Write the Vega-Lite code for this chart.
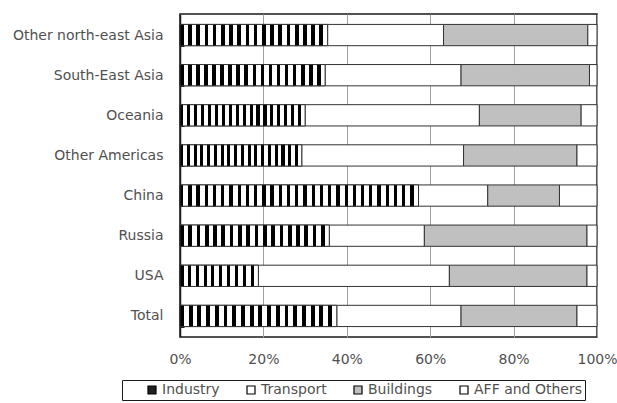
{
  "$schema": "https://vega.github.io/schema/vega-lite/v6.json",
  "width": 417,
  "height": 323,
  "autosize": "none",
  "padding": {"left": 180, "top": 14, "right": 20, "bottom": 66},
  "background": "white",
  "config": {
    "font": "DejaVu Sans",
    "view": {"stroke": "#1a1a1a", "strokeWidth": 1.5},
    "axis": {"labelFont": "DejaVu Sans", "labelFontSize": 14, "labelColor": "#505050", "title": null}
  },
  "data": {
    "values": [
      {"region": "Other north-east Asia", "sector": "Industry", "k": 1, "share": 35.4},
      {"region": "Other north-east Asia", "sector": "Transport", "k": 2, "share": 27.8},
      {"region": "Other north-east Asia", "sector": "Buildings", "k": 3, "share": 34.6},
      {"region": "Other north-east Asia", "sector": "AFF and Others", "k": 4, "share": 2.2},
      {"region": "South-East Asia", "sector": "Industry", "k": 1, "share": 34.8},
      {"region": "South-East Asia", "sector": "Transport", "k": 2, "share": 32.6},
      {"region": "South-East Asia", "sector": "Buildings", "k": 3, "share": 30.8},
      {"region": "South-East Asia", "sector": "AFF and Others", "k": 4, "share": 1.8},
      {"region": "Oceania", "sector": "Industry", "k": 1, "share": 30.0},
      {"region": "Oceania", "sector": "Transport", "k": 2, "share": 41.8},
      {"region": "Oceania", "sector": "Buildings", "k": 3, "share": 24.4},
      {"region": "Oceania", "sector": "AFF and Others", "k": 4, "share": 3.8},
      {"region": "Other Americas", "sector": "Industry", "k": 1, "share": 29.2},
      {"region": "Other Americas", "sector": "Transport", "k": 2, "share": 38.8},
      {"region": "Other Americas", "sector": "Buildings", "k": 3, "share": 27.2},
      {"region": "Other Americas", "sector": "AFF and Others", "k": 4, "share": 4.8},
      {"region": "China", "sector": "Industry", "k": 1, "share": 57.2},
      {"region": "China", "sector": "Transport", "k": 2, "share": 16.6},
      {"region": "China", "sector": "Buildings", "k": 3, "share": 17.2},
      {"region": "China", "sector": "AFF and Others", "k": 4, "share": 9.0},
      {"region": "Russia", "sector": "Industry", "k": 1, "share": 35.8},
      {"region": "Russia", "sector": "Transport", "k": 2, "share": 22.8},
      {"region": "Russia", "sector": "Buildings", "k": 3, "share": 39.0},
      {"region": "Russia", "sector": "AFF and Others", "k": 4, "share": 2.4},
      {"region": "USA", "sector": "Industry", "k": 1, "share": 18.8},
      {"region": "USA", "sector": "Transport", "k": 2, "share": 45.8},
      {"region": "USA", "sector": "Buildings", "k": 3, "share": 33.0},
      {"region": "USA", "sector": "AFF and Others", "k": 4, "share": 2.4},
      {"region": "Total", "sector": "Industry", "k": 1, "share": 37.6},
      {"region": "Total", "sector": "Transport", "k": 2, "share": 29.8},
      {"region": "Total", "sector": "Buildings", "k": 3, "share": 27.8},
      {"region": "Total", "sector": "AFF and Others", "k": 4, "share": 4.8}
    ]
  },
  "transform": [
    {"stack": "share", "groupby": ["region"], "sort": [{"field": "k", "order": "ascending"}], "as": ["x0", "x1"], "offset": "normalize"}
  ],
  "encoding": {
    "y": {
      "field": "region", "type": "nominal", "sort": null,
      "scale": {"paddingInner": 0.47, "paddingOuter": 0.26},
      "axis": {"domainColor": "#1a1a1a", "domainWidth": 1.5, "ticks": true, "tickBand": "extent", "tickSize": -4, "tickColor": "#1a1a1a", "labelPadding": 21, "grid": false}
    },
    "x": {
      "field": "x0", "type": "quantitative",
      "scale": {"domain": [0, 1], "nice": false},
      "axis": {"format": ".0%", "values": [0, 0.2, 0.4, 0.6, 0.8, 1], "grid": true, "gridColor": "#a0a0a0", "gridWidth": 1, "ticks": false, "domain": false, "labelPadding": 15, "labelFlush": false}
    },
    "x2": {"field": "x1"}
  },
  "layer": [
    {
      "mark": {"type": "bar", "stroke": "#333333", "strokeWidth": 1},
      "encoding": {
        "fill": {
          "field": "sector", "type": "nominal",
          "sort": ["Industry", "Transport", "Buildings", "AFF and Others"],
          "scale": {
            "domain": ["Industry", "Transport", "Buildings", "AFF and Others"],
            "range": ["#202020", "#ffffff", "#c0c0c0", "#ffffff"]
          },
          "legend": {
            "orient": "none", "legendX": -58, "legendY": 366, "direction": "horizontal",
            "title": null, "symbolType": "square", "symbolSize": 64, "symbolStrokeColor": "#000", "symbolStrokeWidth": 1.2,
            "symbolOffset": 20,
            "labelFont": "DejaVu Sans", "labelFontSize": 14, "labelColor": "#505050", "labelOffset": 3,
            "columnPadding": 4, "strokeColor": "#1a1a1a", "padding": 3, "fillColor": "white", "offset": 0
          }
        }
      }
    },
    {
      "transform": [{"filter": "datum.sector === 'Industry' && datum.region !== 'China' && datum.region !== 'USA'"}],
      "mark": {"type": "bar", "stroke": "#333333", "strokeWidth": 1,
        "fill": {"gradient": "linear", "x1": 0, "y1": 0, "x2": 1, "y2": 0, "stops": [
            {"offset": 0, "color": "#000"}, {"offset": 0.025, "color": "#000"}, {"offset": 0.025, "color": "#fff"},
            {"offset": 0.0556, "color": "#fff"}, {"offset": 0.0556, "color": "#000"}, {"offset": 0.0806, "color": "#000"}, {"offset": 0.0806, "color": "#fff"},
            {"offset": 0.1111, "color": "#fff"}, {"offset": 0.1111, "color": "#000"}, {"offset": 0.1361, "color": "#000"}, {"offset": 0.1361, "color": "#fff"},
            {"offset": 0.1667, "color": "#fff"}, {"offset": 0.1667, "color": "#000"}, {"offset": 0.1917, "color": "#000"}, {"offset": 0.1917, "color": "#fff"},
            {"offset": 0.2222, "color": "#fff"}, {"offset": 0.2222, "color": "#000"}, {"offset": 0.2472, "color": "#000"}, {"offset": 0.2472, "color": "#fff"},
            {"offset": 0.2778, "color": "#fff"}, {"offset": 0.2778, "color": "#000"}, {"offset": 0.3028, "color": "#000"}, {"offset": 0.3028, "color": "#fff"},
            {"offset": 0.3333, "color": "#fff"}, {"offset": 0.3333, "color": "#000"}, {"offset": 0.3583, "color": "#000"}, {"offset": 0.3583, "color": "#fff"},
            {"offset": 0.3889, "color": "#fff"}, {"offset": 0.3889, "color": "#000"}, {"offset": 0.4139, "color": "#000"}, {"offset": 0.4139, "color": "#fff"},
            {"offset": 0.4444, "color": "#fff"}, {"offset": 0.4444, "color": "#000"}, {"offset": 0.4694, "color": "#000"}, {"offset": 0.4694, "color": "#fff"},
            {"offset": 0.5, "color": "#fff"}, {"offset": 0.5, "color": "#000"}, {"offset": 0.525, "color": "#000"}, {"offset": 0.525, "color": "#fff"},
            {"offset": 0.5556, "color": "#fff"}, {"offset": 0.5556, "color": "#000"}, {"offset": 0.5806, "color": "#000"}, {"offset": 0.5806, "color": "#fff"},
            {"offset": 0.6111, "color": "#fff"}, {"offset": 0.6111, "color": "#000"}, {"offset": 0.6361, "color": "#000"}, {"offset": 0.6361, "color": "#fff"},
            {"offset": 0.6667, "color": "#fff"}, {"offset": 0.6667, "color": "#000"}, {"offset": 0.6917, "color": "#000"}, {"offset": 0.6917, "color": "#fff"},
            {"offset": 0.7222, "color": "#fff"}, {"offset": 0.7222, "color": "#000"}, {"offset": 0.7472, "color": "#000"}, {"offset": 0.7472, "color": "#fff"},
            {"offset": 0.7778, "color": "#fff"}, {"offset": 0.7778, "color": "#000"}, {"offset": 0.8028, "color": "#000"}, {"offset": 0.8028, "color": "#fff"},
            {"offset": 0.8333, "color": "#fff"}, {"offset": 0.8333, "color": "#000"}, {"offset": 0.8583, "color": "#000"}, {"offset": 0.8583, "color": "#fff"},
            {"offset": 0.8889, "color": "#fff"}, {"offset": 0.8889, "color": "#000"}, {"offset": 0.9139, "color": "#000"}, {"offset": 0.9139, "color": "#fff"},
            {"offset": 0.9444, "color": "#fff"}, {"offset": 0.9444, "color": "#000"}, {"offset": 0.9694, "color": "#000"}, {"offset": 0.9694, "color": "#fff"},
            {"offset": 1, "color": "#fff"}
        ]}
      }
    },
    {
      "transform": [{"filter": "datum.sector === 'Industry' && datum.region === 'USA'"}],
      "mark": {"type": "bar", "stroke": "#333333", "strokeWidth": 1,
        "fill": {"gradient": "linear", "x1": 0, "y1": 0, "x2": 1, "y2": 0, "stops": [
            {"offset": 0, "color": "#000"}, {"offset": 0.045, "color": "#000"}, {"offset": 0.045, "color": "#fff"},
            {"offset": 0.1, "color": "#fff"}, {"offset": 0.1, "color": "#000"}, {"offset": 0.14, "color": "#000"}, {"offset": 0.14, "color": "#fff"},
            {"offset": 0.2, "color": "#fff"}, {"offset": 0.2, "color": "#000"}, {"offset": 0.24, "color": "#000"}, {"offset": 0.24, "color": "#fff"},
            {"offset": 0.3, "color": "#fff"}, {"offset": 0.3, "color": "#000"}, {"offset": 0.34, "color": "#000"}, {"offset": 0.34, "color": "#fff"},
            {"offset": 0.4, "color": "#fff"}, {"offset": 0.4, "color": "#000"}, {"offset": 0.44, "color": "#000"}, {"offset": 0.44, "color": "#fff"},
            {"offset": 0.5, "color": "#fff"}, {"offset": 0.5, "color": "#000"}, {"offset": 0.54, "color": "#000"}, {"offset": 0.54, "color": "#fff"},
            {"offset": 0.6, "color": "#fff"}, {"offset": 0.6, "color": "#000"}, {"offset": 0.64, "color": "#000"}, {"offset": 0.64, "color": "#fff"},
            {"offset": 0.7, "color": "#fff"}, {"offset": 0.7, "color": "#000"}, {"offset": 0.74, "color": "#000"}, {"offset": 0.74, "color": "#fff"},
            {"offset": 0.8, "color": "#fff"}, {"offset": 0.8, "color": "#000"}, {"offset": 0.84, "color": "#000"}, {"offset": 0.84, "color": "#fff"},
            {"offset": 0.9, "color": "#fff"}, {"offset": 0.9, "color": "#000"}, {"offset": 0.94, "color": "#000"}, {"offset": 0.94, "color": "#fff"},
            {"offset": 1, "color": "#fff"}
        ]}
      }
    },
    {
      "transform": [{"filter": "datum.sector === 'Industry' && datum.region === 'China'"}],
      "mark": {"type": "bar", "stroke": "#333333", "strokeWidth": 1,
        "fill": {"gradient": "linear", "x1": 0, "y1": 0, "x2": 1, "y2": 0, "stops": [
            {"offset": 0, "color": "#000"}, {"offset": 0.0138, "color": "#000"}, {"offset": 0.0138, "color": "#fff"},
            {"offset": 0.0345, "color": "#fff"}, {"offset": 0.0345, "color": "#000"}, {"offset": 0.0483, "color": "#000"}, {"offset": 0.0483, "color": "#fff"},
            {"offset": 0.0690, "color": "#fff"}, {"offset": 0.0690, "color": "#000"}, {"offset": 0.0828, "color": "#000"}, {"offset": 0.0828, "color": "#fff"},
            {"offset": 0.1034, "color": "#fff"}, {"offset": 0.1034, "color": "#000"}, {"offset": 0.1172, "color": "#000"}, {"offset": 0.1172, "color": "#fff"},
            {"offset": 0.1379, "color": "#fff"}, {"offset": 0.1379, "color": "#000"}, {"offset": 0.1517, "color": "#000"}, {"offset": 0.1517, "color": "#fff"},
            {"offset": 0.1724, "color": "#fff"}, {"offset": 0.1724, "color": "#000"}, {"offset": 0.1862, "color": "#000"}, {"offset": 0.1862, "color": "#fff"},
            {"offset": 0.2069, "color": "#fff"}, {"offset": 0.2069, "color": "#000"}, {"offset": 0.2207, "color": "#000"}, {"offset": 0.2207, "color": "#fff"},
            {"offset": 0.2414, "color": "#fff"}, {"offset": 0.2414, "color": "#000"}, {"offset": 0.2552, "color": "#000"}, {"offset": 0.2552, "color": "#fff"},
            {"offset": 0.2759, "color": "#fff"}, {"offset": 0.2759, "color": "#000"}, {"offset": 0.2897, "color": "#000"}, {"offset": 0.2897, "color": "#fff"},
            {"offset": 0.3103, "color": "#fff"}, {"offset": 0.3103, "color": "#000"}, {"offset": 0.3241, "color": "#000"}, {"offset": 0.3241, "color": "#fff"},
            {"offset": 0.3448, "color": "#fff"}, {"offset": 0.3448, "color": "#000"}, {"offset": 0.3586, "color": "#000"}, {"offset": 0.3586, "color": "#fff"},
            {"offset": 0.3793, "color": "#fff"}, {"offset": 0.3793, "color": "#000"}, {"offset": 0.3931, "color": "#000"}, {"offset": 0.3931, "color": "#fff"},
            {"offset": 0.4138, "color": "#fff"}, {"offset": 0.4138, "color": "#000"}, {"offset": 0.4276, "color": "#000"}, {"offset": 0.4276, "color": "#fff"},
            {"offset": 0.4483, "color": "#fff"}, {"offset": 0.4483, "color": "#000"}, {"offset": 0.4621, "color": "#000"}, {"offset": 0.4621, "color": "#fff"},
            {"offset": 0.4828, "color": "#fff"}, {"offset": 0.4828, "color": "#000"}, {"offset": 0.4966, "color": "#000"}, {"offset": 0.4966, "color": "#fff"},
            {"offset": 0.5172, "color": "#fff"}, {"offset": 0.5172, "color": "#000"}, {"offset": 0.5310, "color": "#000"}, {"offset": 0.5310, "color": "#fff"},
            {"offset": 0.5517, "color": "#fff"}, {"offset": 0.5517, "color": "#000"}, {"offset": 0.5655, "color": "#000"}, {"offset": 0.5655, "color": "#fff"},
            {"offset": 0.5862, "color": "#fff"}, {"offset": 0.5862, "color": "#000"}, {"offset": 0.6000, "color": "#000"}, {"offset": 0.6000, "color": "#fff"},
            {"offset": 0.6207, "color": "#fff"}, {"offset": 0.6207, "color": "#000"}, {"offset": 0.6345, "color": "#000"}, {"offset": 0.6345, "color": "#fff"},
            {"offset": 0.6552, "color": "#fff"}, {"offset": 0.6552, "color": "#000"}, {"offset": 0.6690, "color": "#000"}, {"offset": 0.6690, "color": "#fff"},
            {"offset": 0.6897, "color": "#fff"}, {"offset": 0.6897, "color": "#000"}, {"offset": 0.7034, "color": "#000"}, {"offset": 0.7034, "color": "#fff"},
            {"offset": 0.7241, "color": "#fff"}, {"offset": 0.7241, "color": "#000"}, {"offset": 0.7379, "color": "#000"}, {"offset": 0.7379, "color": "#fff"},
            {"offset": 0.7586, "color": "#fff"}, {"offset": 0.7586, "color": "#000"}, {"offset": 0.7724, "color": "#000"}, {"offset": 0.7724, "color": "#fff"},
            {"offset": 0.7931, "color": "#fff"}, {"offset": 0.7931, "color": "#000"}, {"offset": 0.8069, "color": "#000"}, {"offset": 0.8069, "color": "#fff"},
            {"offset": 0.8276, "color": "#fff"}, {"offset": 0.8276, "color": "#000"}, {"offset": 0.8414, "color": "#000"}, {"offset": 0.8414, "color": "#fff"},
            {"offset": 0.8621, "color": "#fff"}, {"offset": 0.8621, "color": "#000"}, {"offset": 0.8759, "color": "#000"}, {"offset": 0.8759, "color": "#fff"},
            {"offset": 0.8966, "color": "#fff"}, {"offset": 0.8966, "color": "#000"}, {"offset": 0.9103, "color": "#000"}, {"offset": 0.9103, "color": "#fff"},
            {"offset": 0.9310, "color": "#fff"}, {"offset": 0.9310, "color": "#000"}, {"offset": 0.9448, "color": "#000"}, {"offset": 0.9448, "color": "#fff"},
            {"offset": 0.9655, "color": "#fff"}, {"offset": 0.9655, "color": "#000"}, {"offset": 0.9793, "color": "#000"}, {"offset": 0.9793, "color": "#fff"},
            {"offset": 1, "color": "#fff"}
        ]}
      }
    }
  ]
}
